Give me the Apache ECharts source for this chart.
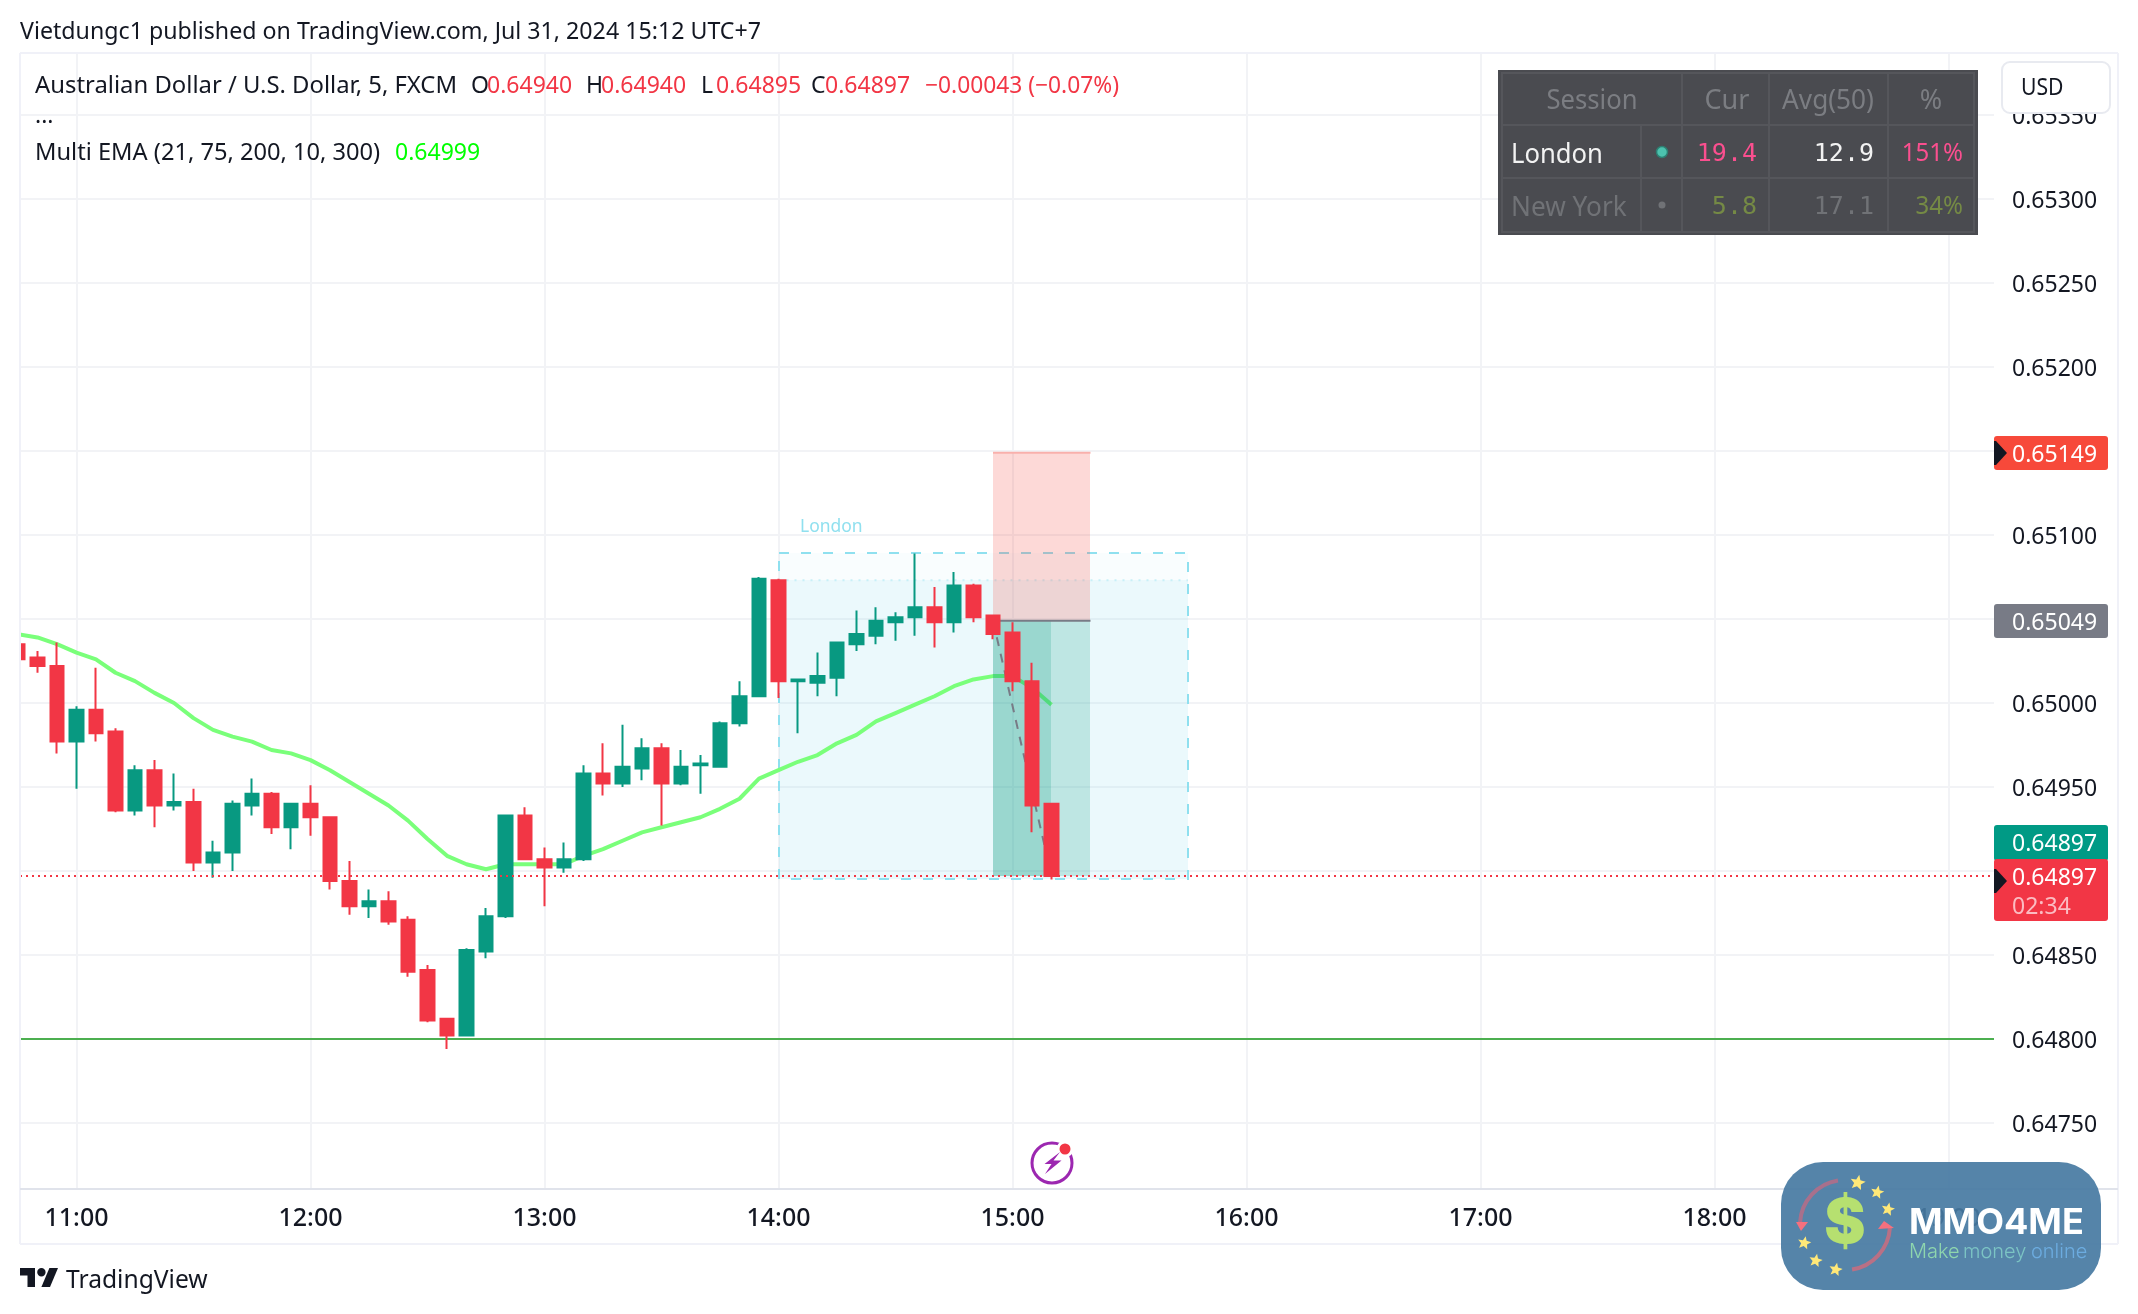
<!DOCTYPE html>
<html>
<head>
<meta charset="utf-8">
<title>AUD/USD 5m</title>
<script src="https://cdn.jsdelivr.net/npm/echarts@6/dist/echarts.min.js"></script>
<style>html,body{margin:0;padding:0;background:#fff}#chart{width:2138px;height:1314px}</style>
</head>
<body>
<div id="chart"></div>
<script>
// Bar opening times, minutes after midnight (5-minute bars)
const barMinutes = [645,650,655,660,665,670,675,680,685,690,695,700,705,710,715,720,725,730,735,740,745,750,755,760,765,770,775,780,785,790,795,800,805,810,815,820,825,830,835,840,845,850,855,860,865,870,875,880,885,890,895,900,905,910];
const opens  = [0.65035,0.65027,0.65022,0.64977,0.64996,0.64983,0.64936,0.64960,0.64939,0.64941,0.64905,0.64911,0.64939,0.64946,0.64926,0.64940,0.64932,0.64894,0.64879,0.64882,0.64871,0.64841,0.64812,0.64802,0.64852,0.64873,0.64933,0.64907,0.64902,0.64907,0.64958,0.64952,0.64961,0.64973,0.64952,0.64963,0.64962,0.64988,0.65004,0.65073,0.65013,0.65012,0.65015,0.65035,0.65040,0.65048,0.65051,0.65057,0.65048,0.65070,0.65052,0.65042,0.65013,0.64940];
const closes = [0.65026,0.65022,0.64977,0.64996,0.64982,0.64936,0.64960,0.64939,0.64941,0.64905,0.64911,0.64940,0.64946,0.64926,0.64940,0.64932,0.64894,0.64879,0.64882,0.64870,0.64840,0.64811,0.64802,0.64853,0.64873,0.64933,0.64907,0.64902,0.64907,0.64958,0.64952,0.64962,0.64973,0.64952,0.64962,0.64964,0.64988,0.65004,0.65074,0.65013,0.65014,0.65016,0.65036,0.65041,0.65049,0.65051,0.65057,0.65048,0.65070,0.65051,0.65041,0.65013,0.64939,0.64897];
const lows   = [0.65025,0.65018,0.64970,0.64949,0.64977,0.64935,0.64933,0.64926,0.64936,0.64900,0.64896,0.64900,0.64933,0.64922,0.64913,0.64921,0.64889,0.64874,0.64872,0.64868,0.64837,0.64810,0.64794,0.64802,0.64848,0.64872,0.64907,0.64879,0.64899,0.64906,0.64945,0.64950,0.64954,0.64927,0.64951,0.64946,0.64962,0.64986,0.65004,0.65003,0.64982,0.65004,0.65004,0.65031,0.65035,0.65037,0.65040,0.65033,0.65042,0.65048,0.65038,0.65007,0.64923,0.64895];
const highs  = [0.65036,0.65031,0.65036,0.64998,0.65021,0.64985,0.64963,0.64966,0.64958,0.64949,0.64918,0.64942,0.64955,0.64947,0.64940,0.64951,0.64932,0.64906,0.64889,0.64888,0.64873,0.64844,0.64812,0.64854,0.64878,0.64933,0.64938,0.64914,0.64917,0.64963,0.64976,0.64987,0.64979,0.64976,0.64972,0.64969,0.64989,0.65013,0.65075,0.65074,0.65014,0.65030,0.65036,0.65055,0.65057,0.65054,0.65089,0.65069,0.65078,0.65071,0.65052,0.65048,0.65024,0.64940];
const emaValues = [0.65041,0.65039,0.65035,0.65030,0.65026,0.65018,0.65013,0.65006,0.65000,0.64991,0.64984,0.64980,0.64977,0.64972,0.64970,0.64966,0.64960,0.64953,0.64946,0.64939,0.64930,0.64919,0.64909,0.64904,0.64901,0.64904,0.64904,0.64904,0.64904,0.64909,0.64913,0.64918,0.64923,0.64926,0.64929,0.64932,0.64937,0.64943,0.64955,0.64960,0.64965,0.64969,0.64976,0.64981,0.64989,0.64994,0.64999,0.65004,0.65010,0.65014,0.65016,0.65016,0.65009,0.64999];

const timeTicks = [660,720,780,840,900,960,1020,1080,1140];
const priceGridTicks = [0.6475,0.6480,0.6485,0.6490,0.6495,0.6500,0.6505,0.6510,0.6515,0.6520,0.6525,0.6530,0.6535];
const priceLabelTicks = [0.6475,0.6480,0.6485,0.6495,0.6500,0.6510,0.6520,0.6525,0.6530,0.6535];

const axisRangeTime = [645.51,1151.67];
const axisRangePrice = [0.647107,0.653863];

const currentPrice = 0.64897;
const supportPrice = 0.648;
// [start minute, end minute, top price, bottom price]
const londonUpper = [840,945,0.65089,0.65073];
const londonLower = [840,945,0.65073,0.64895];
const londonFrame = [840,945,0.65089,0.64895];
const stopZone = [895,920,0.65149,0.65049];
const targetZone = [895,920,0.65049,0.64897];
const targetFilled = [895,910,0.65049,0.64897];
const entryLine = [[895,0.65049],[920,0.65049]];
const stopLine = [[895,0.65149],[920,0.65149]];
const tradePath = [[895,0.65049],[910,0.64897]];
const londonOpenLine = [[840,0.65073],[945,0.65073]];

const candleData = barMinutes.map((t,i)=>[t,opens[i],closes[i],lows[i],highs[i]]);
const emaData = barMinutes.map((t,i)=>[t,emaValues[i]]);

function zone(name,box,z,fill,extra){
  return {type:'custom',name,z,silent:true,clip:true,data:[box],encode:{x:[0,1],y:[2,3]},
    renderItem(p,api){
      const a=api.coord([api.value(0),api.value(2)]).map(Math.round),b=api.coord([api.value(1),api.value(3)]).map(Math.round);
      return {type:'rect',shape:{x:a[0],y:a[1],width:b[0]-a[0],height:b[1]-a[1]},style:Object.assign({fill},extra||{})};
    }};
}
function seg(name,data,z,color,width,dash){
  return {type:'line',name,z,silent:true,data,symbol:'none',clip:true,lineStyle:{color,width,type:dash||'solid'}};
}

const UI='Noto Sans';
const T=(x,y,text,o={})=>({type:'text',x,y:y+2,z:o.z||100,silent:true,scaleX:o.sx||1,
  style:{text,fill:o.c||'#131722',font:`${o.w||400} ${o.s||23}px ${o.f||UI}`,align:o.a||'left',verticalAlign:'middle',opacity:o.o==null?1:o.o}});
const R=(x,y,w,h,fill,o={})=>({type:'rect',z:o.z||100,silent:true,shape:{x,y,width:w,height:h,r:o.r||0},style:{fill,stroke:o.stroke,lineWidth:o.lw||0,opacity:o.o==null?1:o.o}});
const L=(x1,y1,x2,y2,c,w,z)=>({type:'line',z:z||100,silent:true,shape:{x1,y1,x2,y2},style:{stroke:c,lineWidth:w||2}});
const P=(pts,fill,z)=>({type:'polygon',z:z||100,silent:true,shape:{points:pts},style:{fill}});
const tagArrow=(y)=>P([[1994,y-12],[1996,y-12],[2007,y],[1996,y+12],[1994,y+12]],'#131722',102);
function star(cx,cy,r){const a=[];for(let i=0;i<10;i++){const rr=i%2?r*0.45:r,an=-Math.PI/2+i*Math.PI/5+0.2;a.push([cx+rr*Math.cos(an),cy+rr*Math.sin(an)]);}return P(a,'#ffe878',112);}

const tbl='#4a4b50',sep='#55565b',dim='#7b7d82',dim2='#707276',pink='#fb4f8f',olive='#758a45';
const graphics=[
  R(0,50,19,1145,'#ffffff',{z:90}),
  L(20,53,2118,53,'#f0f1f8',2,91),L(20,53,20,1244,'#f0f1f8',2,91),L(2118,53,2118,1244,'#f0f1f8',2,91),L(20,1244,2118,1244,'#f0f1f8',2,91),
  L(20,1189,2118,1189,'#e0e3eb',2,91),

  T(20,30,'Vietdungc1 published on TradingView.com, Jul 31, 2024 15:12 UTC+7',{sx:1.008}),
  T(35,84,'Australian Dollar / U.S. Dollar, 5, FXCM',{sx:1.037}),
  T(471,84,'O'),T(487,84,'0.64940',{c:'#f23645'}),
  T(586,84,'H'),T(601,84,'0.64940',{c:'#f23645'}),
  T(701,84,'L'),T(716,84,'0.64895',{c:'#f23645'}),
  T(811,84,'C'),T(825,84,'0.64897',{c:'#f23645'}),
  T(925,84,'−0.00043 (−0.07%)',{c:'#f23645',sx:0.99}),
  T(35,114,'...',{w:400}),
  T(35,151,'Multi EMA (21, 75, 200, 10, 300)',{sx:1.028}),
  T(395,151,'0.64999',{c:'#00ff00'}),
  T(800,525,'London',{c:'#90e0ef',s:18,sx:0.97}),

  // Session table
  R(1498,70,480,165,tbl),
  R(1502,73,472,159,'none',{stroke:sep,lw:2}),
  L(1502,125,1974,125,sep),L(1502,178,1974,178,sep),
  L(1682,73,1682,232,sep),L(1769,73,1769,232,sep),L(1888,73,1888,232,sep),L(1641,125,1641,232,sep),
  T(1592,99,'Session',{c:dim,s:27,a:'center',sx:0.95}),
  T(1727,99,'Cur',{c:dim,s:27,a:'center'}),
  T(1828,99,'Avg(50)',{c:dim,s:27,a:'center',sx:0.97}),
  T(1931,99,'%',{c:dim,s:27,a:'center'}),
  T(1511,153,'London',{c:'#f2f2f2',s:27,sx:0.95}),
  {type:'circle',z:101,silent:true,shape:{cx:1662,cy:152,r:5.5},style:{fill:'#4cc2ae',stroke:'#2d7f72',lineWidth:1.5}},
  T(1757,152,'19.4',{c:pink,s:25,a:'right',f:'DejaVu Sans Mono'}),
  T(1874,152,'12.9',{c:'#f2f2f2',s:25,a:'right',f:'DejaVu Sans Mono'}),
  T(1963,152,'151%',{c:pink,s:25,a:'right',sx:0.96}),
  T(1511,206,'New York',{c:dim2,s:27,sx:0.97}),
  {type:'circle',z:101,silent:true,shape:{cx:1662,cy:205,r:3.5},style:{fill:dim2}},
  T(1757,205,'5.8',{c:olive,s:25,a:'right',f:'DejaVu Sans Mono'}),
  T(1874,205,'17.1',{c:dim2,s:25,a:'right',f:'DejaVu Sans Mono'}),
  T(1963,205,'34%',{c:olive,s:25,a:'right',sx:0.96}),

  // USD box
  R(2002,62,108,51,'#ffffff',{r:8,stroke:'#e8eaf0',lw:2,z:95}),
  T(2021,86,'USD',{z:96,sx:0.92}),

  // Price tags
  R(1994,436,114,34,'#f7493a',{r:3}),T(2012,453,'0.65149',{c:'#fff'}),tagArrow(453),
  R(1994,604,114,34,'#787b86',{r:3}),T(2012,621,'0.65049',{c:'#fff'}),
  R(1994,825,114,36,'#009a85',{r:3}),T(2012,842,'0.64897',{c:'#fff'}),
  R(1994,859,114,62,'#f23645',{r:3}),T(2012,876,'0.64897',{c:'#fff'}),T(2012,905,'02:34',{c:'#fbbcc2'}),tagArrow(881),

  // Lightning icon
  {type:'arc',z:100,silent:true,shape:{cx:1052,cy:1163,r:20,startAngle:0,endAngle:Math.PI*2},style:{stroke:'#9c27b0',lineWidth:3,fill:'none'}},
  {type:'circle',z:101,silent:true,shape:{cx:1065,cy:1149,r:8.5},style:{fill:'#fff'}},
  {type:'circle',z:102,silent:true,shape:{cx:1065,cy:1149,r:5.5},style:{fill:'#f23645'}},
  P([[1060,1152],[1044.5,1164],[1051.5,1164],[1045,1174],[1061.5,1160.5],[1053.5,1160.5]],'#9c27b0',101),

  // TradingView mark
  P([[20,1268],[35,1268],[35,1287],[27.5,1287],[27.5,1275.6],[20,1275.6]],'#131722'),
  P([[41.4,1287],[50,1287],[58,1268],[49.4,1268]],'#131722'),
  {type:'circle',z:100,silent:true,shape:{cx:41.4,cy:1272.2,r:4.2},style:{fill:'#131722'}},
  T(66,1279,'TradingView',{s:25,sx:0.985}),

  // Badge
  R(1781,1162,320,128,'#477aa2',{r:42,z:110,o:0.92}),
  T(1909,1221,'MMO4ME',{c:'#fff',s:35,w:700,f:'Inter',z:112,sx:1.03}),
  T(1909,1250,'Make',{c:'#8ed6ae',s:20,z:112,f:'Inter',w:300}),
  T(1963,1250,'money',{c:'#7cc4c4',s:20,z:112,f:'Inter',w:300}),
  T(2031,1250,'online',{c:'#6cace0',s:20,z:112,f:'Inter',w:300}),
  T(1845,1222,'$',{c:'#b6e070',s:62,w:900,a:'center',z:112,f:'Inter'}),
  {type:'arc',z:111,silent:true,shape:{cx:1845,cy:1225,r:45,startAngle:Math.PI*1.02,endAngle:Math.PI*1.45},style:{stroke:'#a8708c',lineWidth:4,fill:'none'}},
  {type:'arc',z:111,silent:true,shape:{cx:1845,cy:1225,r:45,startAngle:Math.PI*0.02,endAngle:Math.PI*0.45},style:{stroke:'#b97085',lineWidth:4,fill:'none'}},
  P([[1796,1222],[1808,1222],[1801,1231]],'#f4707e',112),
  P([[1884,1221],[1894,1228],[1878,1229]],'#f4707e',112),
  star(1857.7,1182.7,8),star(1877.3,1192.3,7),star(1888,1209.3,7),star(1804.3,1243,7),star(1815.7,1260.7,7),star(1835.7,1269.7,7)
];

const chart=echarts.init(document.getElementById('chart'),null,{renderer:'canvas'});
chart.setOption({
  animation:false,
  backgroundColor:'#ffffff',
  textStyle:{fontFamily:UI},
  grid:{left:20,right:144,top:54,bottom:125,containLabel:false},
  xAxis:{type:'value',min:axisRangeTime[0],max:axisRangeTime[1],
    axisLine:{show:false},
    axisTick:{show:false,customValues:timeTicks},
    splitLine:{show:true,lineStyle:{color:'#f2f3f6',width:2}},
    axisLabel:{customValues:timeTicks,margin:17,color:'#131722',fontSize:25,fontWeight:500,fontFamily:UI,
      showMinLabel:true,showMaxLabel:true,
      formatter:v=>String(Math.floor(v/60)).padStart(2,'0')+':'+String(v%60).padStart(2,'0')}},
  yAxis:{type:'value',position:'right',min:axisRangePrice[0],max:axisRangePrice[1],scale:true,
    axisLine:{show:false},
    axisTick:{show:false,customValues:priceGridTicks},
    splitLine:{show:true,lineStyle:{color:'#f2f3f6',width:2}},
    axisLabel:{customValues:priceLabelTicks,margin:18,align:'left',
      rich:{p:{padding:[5,0,0,0],color:'#131722',fontSize:23,fontFamily:UI}},
      formatter:v=>'{p|'+v.toFixed(5)+'}'}},
  series:[
    zone('London upper',londonUpper,1,'rgba(144,224,239,0.05)'),
    zone('London lower',londonLower,1,'rgba(144,224,239,0.18)'),
    zone('London frame',londonFrame,1.5,'none',{stroke:'#8fe0ef',lineWidth:2,lineDash:[10,12]}),
    seg('London open',londonOpenLine,1.5,'#c8f0f7',2,[2,6]),
    {type:'line',name:'Multi EMA',z:2,silent:true,data:emaData,symbol:'none',clip:true,smooth:false,
      lineStyle:{color:'#7aff7a',width:4}},
    zone('Stop zone',stopZone,3,'rgba(244,67,54,0.2)'),
    zone('Target zone',targetZone,3,'rgba(8,153,129,0.2)'),
    zone('Target filled',targetFilled,3,'rgba(8,153,129,0.2)'),
    seg('Stop',stopLine,3.1,'#f9b0ac',2),
    seg('Entry',entryLine,3.1,'#787b86',2),
    seg('Trade path',tradePath,4,'#787b86',2,[9,8]),
    seg('Support',[[axisRangeTime[0],supportPrice],[axisRangeTime[1],supportPrice]],5,'#4caf50',2),
    {type:'candlestick',name:'AUDUSD',z:6,silent:true,data:candleData,encode:{x:0,y:[1,2,3,4]},barWidth:14,clip:true,
      itemStyle:{color:'#089981',color0:'#f23645',borderColor:'#089981',borderColor0:'#f23645',borderWidth:2}},
    seg('Last price',[[axisRangeTime[0],currentPrice],[axisRangeTime[1],currentPrice]],7,'#f23645',2,[2,4])
  ],
  graphic:{elements:graphics}
});
</script>
</body>
</html>
